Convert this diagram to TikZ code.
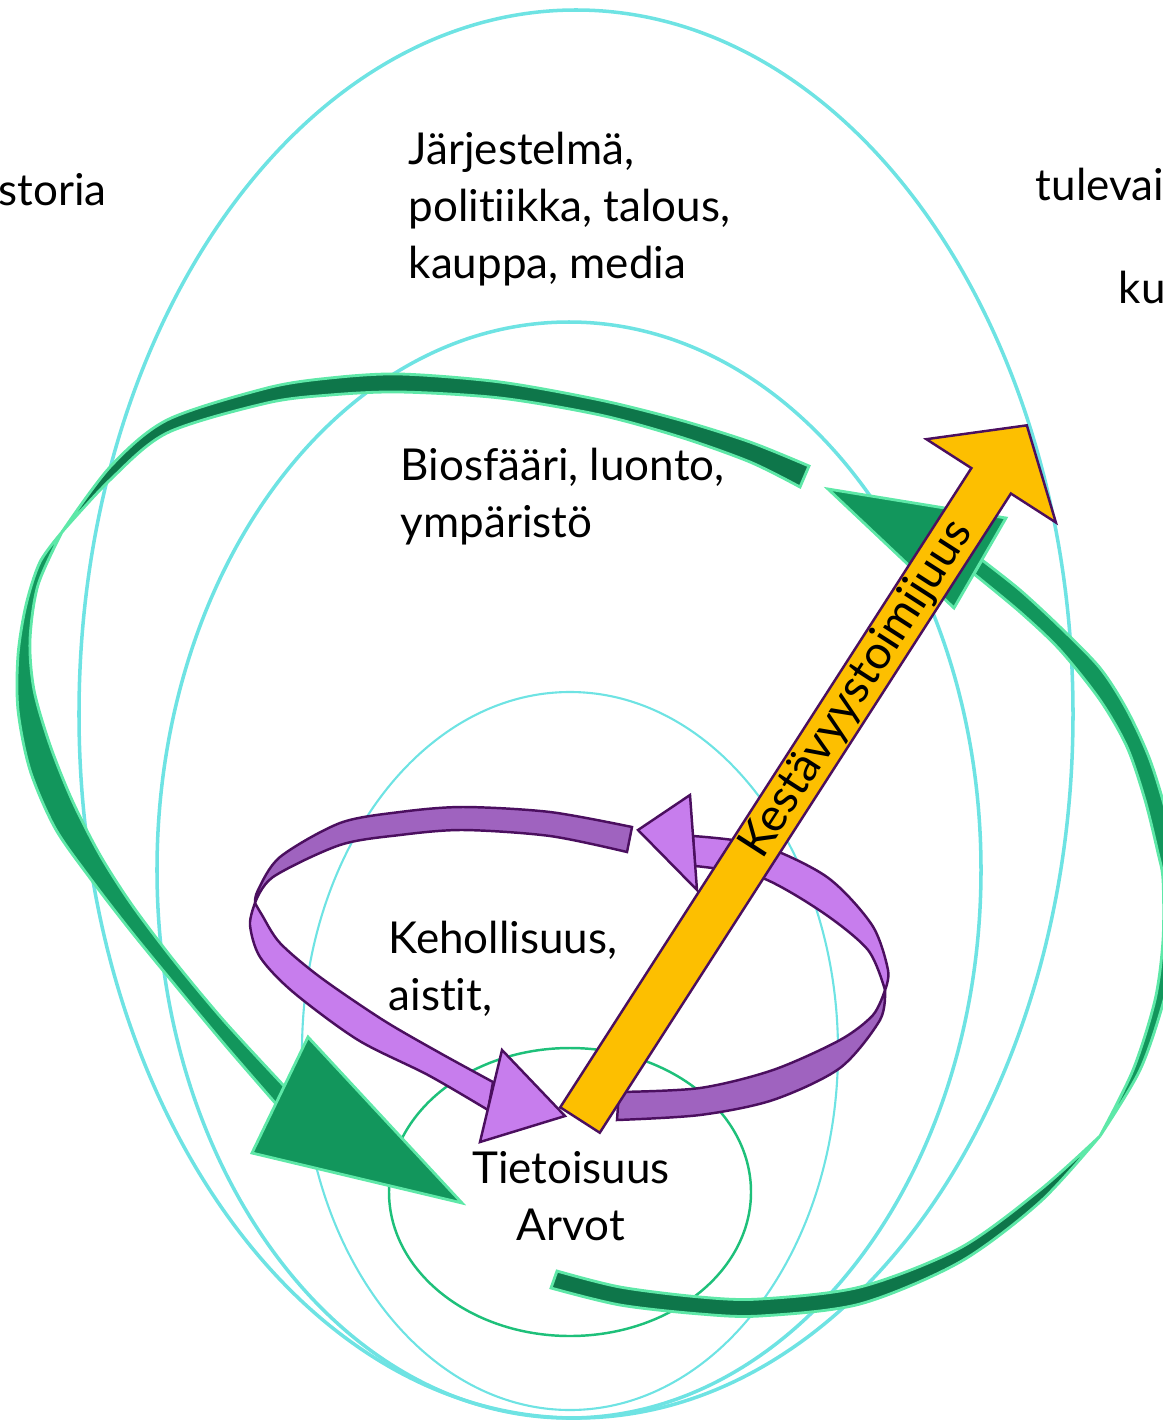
\documentclass[tikz,border=0pt]{standalone}
\usepackage{fontspec}
\setmainfont{Lato}[Ligatures=NoCommon]
\usetikzlibrary{calc}

\definecolor{ringcyan}{RGB}{110,227,227}
\definecolor{ringgreen}{RGB}{30,192,122}
\definecolor{gdark}{RGB}{14,118,74}
\definecolor{glight}{RGB}{18,150,92}
\definecolor{gedge}{RGB}{94,232,168}
\definecolor{plight}{RGB}{199,125,237}
\definecolor{pdark}{RGB}{159,99,191}
\definecolor{pedge}{RGB}{75,15,95}
\definecolor{amber}{RGB}{253,191,0}

\begin{document}
\begin{tikzpicture}[x=0.01cm, y=-0.01cm,
  ring/.style={draw=ringcyan, line width=1pt},
  core/.style={draw=ringgreen, line width=0.7pt},
  ribbonback/.style={fill=gdark, draw=gedge, line width=0.8pt},
  ribbonfront/.style={fill=glight, draw=gedge, line width=0.8pt},
  lilaback/.style={fill=pdark, draw=pedge, line width=0.7pt},
  lilafront/.style={fill=plight, draw=pedge, line width=0.7pt},
  txt/.style={font=\fontsize{12.5}{16.07}\selectfont, inner sep=0pt}]
\useasboundingbox (0,0) rectangle (1162,1421);

  %rings
  \draw[ring] (576,714) ellipse (497 and 704);
  \draw[ring] (569,870) ellipse (412 and 548);
  \draw[ring, line width=0.6pt] (570,1051) ellipse (268 and 359);
  \draw[core] (570,1192) ellipse (181 and 144);

  %texts (base = last line)
  \node[txt, anchor=base west] (storia) at (-2,205) {storia};
  \node[txt, anchor=base west] (tulev) at (1035,200) {tulevai};
  \node[txt, anchor=base west] (ku) at (1118,303) {ku};
  \node[txt, align=left, anchor=base west] (jarj) at (408,278)
     {Järjestelmä,\\politiikka, talous,\\kauppa, media};
  \node[txt, align=left, anchor=base west] (bio) at (400,537)
     {Biosfääri, luonto,\\ympäristö};
  \node[txt, align=left, anchor=base west] (keho) at (388,1010)
     {Kehollisuus,\\aistit,};
  \node[txt, align=center, anchor=base] (tieto) at (571,1240)
     {Tietoisuus\\Arvot};

  %green ribbon, top and left
  \coordinate (GAa) at (308,1037);
  \coordinate (GAb) at (462,1203);
  \coordinate (GAc) at (252,1153);
  \filldraw[ribbonback] plot[smooth] coordinates {(809,466) (750,442) (680,420)
     (600,400) (500,382) (400,374) (330,378) (267,388) (167,420) (110,467) (62,532)}
     -- plot[smooth] coordinates {(62,532) (110,480) (167,433) (267,403) (330,395)
     (400,392) (500,398) (600,415) (680,437) (750,462) (800,487)} -- cycle;
  \filldraw[ribbonfront] plot[smooth] coordinates {(62,532) (40,562) (26,605)
     (18,655) (18,710) (30,770) (55,828) (90,878) (130,930) (175,985) (225,1045) (277,1105)}
     -- plot[smooth] coordinates {(285,1087) (225,1022) (175,962) (132,905) (100,855)
     (72,800) (50,745) (34,690) (30,640) (38,585) (62,532)} -- cycle;
  \filldraw[ribbonfront] (GAa) -- (GAb) -- (GAc) -- cycle;

  %green ribbon, bottom and right
  \coordinate (GBa) at (954,608);
  \coordinate (GBb) at (828,489);
  \coordinate (GBc) at (1006,518);
  \filldraw[ribbonback] plot[smooth] coordinates {(557,1271) (620,1287) (700,1297)
     (760,1299) (860,1287) (960,1248) (1040,1190) (1100,1136)}
     -- plot[smooth] coordinates {(1100,1136) (1040,1202) (960,1262) (860,1304)
     (760,1316) (700,1314) (620,1305) (551,1288)} -- cycle;
  \filldraw[ribbonfront] plot[smooth] coordinates {(1100,1136) (1140,1070) (1164,1000)
     (1176,940) (1178,880) (1168,820) (1150,760) (1127,710) (1100,668) (1060,627)
     (1020,590) (982,560)}
     -- plot[smooth] coordinates {(974,574) (1020,612) (1060,650) (1100,700) (1127,747)
     (1145,800) (1158,853) (1163,880) (1163,940) (1155,1000) (1133,1070) (1100,1136)} -- cycle;
  \filldraw[ribbonfront] (GBa) -- (GBb) -- (GBc) -- cycle;

  %purple loop, left half
  \coordinate (PLa) at (502,1050);
  \coordinate (PLb) at (565,1116);
  \coordinate (PLc) at (480,1142);
  \filldraw[lilaback] plot[smooth] coordinates {(632,827) (550,812) (463,807) (400,812)
     (340,823) (280,857) (258,890) (255,903)}
     -- plot[smooth] coordinates {(255,903) (273,877) (340,845) (400,835) (463,830)
     (550,836) (627,852)} -- cycle;
  \filldraw[lilafront] plot[smooth] coordinates {(255,903) (250,925) (260,957) (293,992)
     (358,1040) (428,1075) (488,1110)}
     -- plot[smooth] coordinates {(493,1082) (440,1053) (383,1020) (320,977) (280,943)
     (262,915) (255,903)} -- cycle;
  \filldraw[lilafront] (PLa) -- (PLb) -- (PLc) -- cycle;

  %purple loop, right half
  \coordinate (PRa) at (690,795);
  \coordinate (PRb) at (638,830);
  \coordinate (PRc) at (697,890);
  \filldraw[lilaback] plot[smooth] coordinates {(619,1092) (700,1088) (773,1070)
     (840,1040) (873,1015) (885,990)}
     -- plot[smooth] coordinates {(885,990) (880,1020) (840,1068) (773,1100) (700,1115)
     (617,1120)} -- cycle;
  \filldraw[lilafront] plot[smooth] coordinates {(693,836) (760,845) (827,877) (872,925)
     (888,970) (885,990)}
     -- plot[smooth] coordinates {(885,990) (868,950) (822,912) (760,877) (695,866)} -- cycle;
  \filldraw[lilafront] (PRa) -- (PRb) -- (PRc) -- cycle;

  %amber arrow
  \begin{scope}[shift={(580,1120)}, rotate=57.25]
    \filldraw[fill=amber, draw=pedge, line width=0.7pt] (0,-23.5) -- (760,-23.5)
       -- (760,-77) -- (826,0) -- (760,77) -- (760,23.5) -- (0,23.5) -- cycle;
    \node[txt, font=\fontsize{13.2}{16}\selectfont, rotate=57.25] (kesta) at (512,0)
       {Kestävyystoimijuus};
  \end{scope}

\end{tikzpicture}
\end{document}
